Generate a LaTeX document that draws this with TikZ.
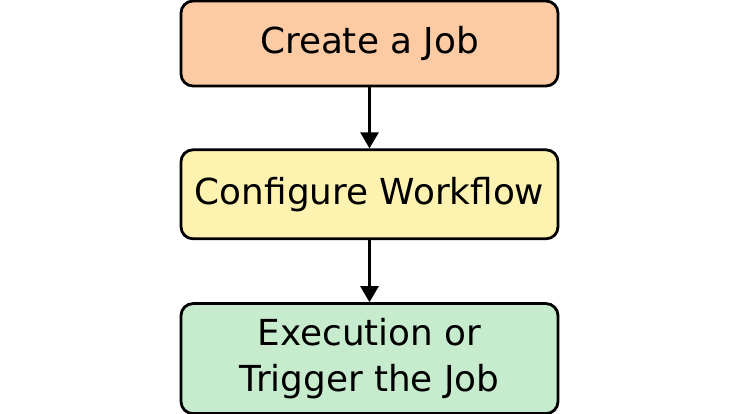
\documentclass[tikz,border=0pt]{standalone}
\usepackage{fontspec}
\setmainfont{DejaVu Sans}
\usetikzlibrary{positioning, arrows.meta}
\definecolor{job-orange}{RGB}{252,202,163}
\definecolor{job-yellow}{RGB}{254,242,176}
\definecolor{job-green}{RGB}{199,235,205}

\begin{document}
\begin{tikzpicture}[x=1pt, y=1pt, node distance=61pt,
	box/.style={draw, line width=2.8pt, rounded corners=12pt, minimum width=377pt, align=center, font=\fontsize{35.8}{46}\selectfont},
	flow/.style={-{Triangle[width=18pt, length=16pt]}, line width=2.6pt}]
	\useasboundingbox (0,0) rectangle (740,-414);
	\node[box, fill=job-orange, minimum height=85pt] (create) at (369.5,-43.5) {Create a Job};
	\node[box, fill=job-yellow, minimum height=89pt, below =of create] (config) {Configure Workflow};
	\node[box, fill=job-green, minimum height=110pt, below =of config, yshift=-1pt] (exec) {Execution or\\Trigger the Job};
	\draw
	(create) edge[flow] (config)
	(config) edge[flow] (exec);
\end{tikzpicture}
\end{document}
